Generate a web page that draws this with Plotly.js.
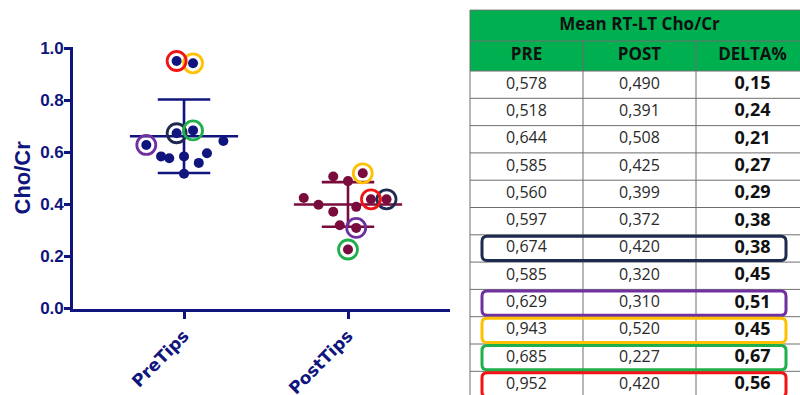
<!DOCTYPE html>
<html>
<head>
<meta charset="utf-8">
<script src="https://cdn.plot.ly/plotly-3.0.1.min.js"></script>
<style>
html,body{margin:0;padding:0;overflow:hidden;background:#fff;width:800px;height:395px;}
#chart{width:810px;height:410px;}
</style>
</head>
<body>
<div id="chart"></div>
<script>
// ---- data ----
const categories = ['PreTips', 'PostTips'];
const pre  = [0.578, 0.518, 0.644, 0.585, 0.560, 0.597, 0.674, 0.585, 0.629, 0.943, 0.685, 0.952];
const post = [0.490, 0.391, 0.508, 0.425, 0.399, 0.372, 0.420, 0.320, 0.310, 0.520, 0.227, 0.420];
const delta = ['0,15', '0,24', '0,21', '0,27', '0,29', '0,38', '0,38', '0,45', '0,51', '0,45', '0,67', '0,56'];
// horizontal scatter offsets of each dot around its category (as plotted)
const preJitter  = [-0.09, 0, 0.24, -0.14, 0.09, 0.14, -0.045, 0, -0.23, 0.055, 0.055, -0.045];
const postJitter = [0, 0.05, -0.09, -0.27, -0.18, -0.09, 0.235, -0.05, 0.05, 0.09, 0, 0.14];
const highlightRows = [6, 8, 9, 10, 11];
const highlightColors = ['#1f2a50', '#7030a0', '#ffc000', '#1fb04b', '#f01414'];
const tableHeaders = ['PRE', 'POST', 'DELTA%'];
const tableTitle = 'Mean RT-LT Cho/Cr';

// ---- helpers ----
const W = 810, H = 410;
const NAVY = '#10157e', MAROON = '#790b3d', GREEN = '#00b050', GRID = '#6e6e6e';
const px = x => x / W, py = y => (H - y) / H;
function mean(a){ return a.reduce((s, v) => s + v, 0) / a.length; }
function sd(a){ const m = mean(a); return Math.sqrt(a.reduce((s, v) => s + (v - m) * (v - m), 0) / (a.length - 1)); }
function fmt(v){ return v.toFixed(3).replace('.', ','); }

function meanSdTrace(vals, ci, color){
  const m = mean(vals), s = sd(vals);
  const xs = [ci - 0.33, ci + 0.33, null, ci, ci, null, ci - 0.16, ci + 0.16, null, ci - 0.16, ci + 0.16];
  const ys = [m, m, null, m - s, m + s, null, m + s, m + s, null, m - s, m - s];
  return {x: xs, y: ys, type: 'scatter', mode: 'lines', line: {color: color, width: 2.6},
          hoverinfo: 'skip', showlegend: false, xaxis: 'x', yaxis: 'y', connectgaps: false};
}
function dotTrace(vals, jit, ci, color){
  return {x: vals.map((v, i) => ci + jit[i]), y: vals, type: 'scatter', mode: 'markers',
          marker: {color: color, size: 10}, showlegend: false, xaxis: 'x', yaxis: 'y'};
}
function ringTrace(vals, jit, ci){
  return {x: highlightRows.map(i => ci + jit[i]), y: highlightRows.map(i => vals[i]),
          type: 'scatter', mode: 'markers', showlegend: false, xaxis: 'x', yaxis: 'y',
          marker: {size: 19, color: 'rgba(0,0,0,0)', line: {color: highlightColors, width: 2.8}}};
}

// ---- table on its own axes: x2 = column units, y2 = row units (data rows are 1 unit) ----
const nCols = tableHeaders.length, nRows = pre.length;
const rowPx = 27.3;                       // pixel height of one row unit
const titleEdge = -(61 / rowPx), headEdge = -(30 / rowPx);
const rowEdges = [titleEdge, headEdge, 0];
for (let i = 1; i <= nRows; i++) rowEdges.push(i);
const colEdges = [];
for (let j = 0; j <= nCols; j++) colEdges.push(j);
const y2Bottom = (H - 71) / rowPx, y2Top = titleEdge - 0.03;
const x2Left = -0.01;

// fills (1 = green header band, 0 = white)
const fillZ = rowEdges.slice(0, -1).map((e, r) => colEdges.slice(0, -1).map(() => (r < 2 ? 1 : 0)));
const fillTrace = {type: 'heatmap', x: colEdges, y: rowEdges, z: fillZ, xaxis: 'x2', yaxis: 'y2',
  zmin: 0, zmax: 1, colorscale: [[0, '#ffffff'], [1, GREEN]], showscale: false, hoverinfo: 'skip', xgap: 0, ygap: 0};

// grid lines
const gx = [], gy = [];
rowEdges.forEach(e => { gx.push(0, nCols, null); gy.push(e, e, null); });
colEdges.forEach(c => { gx.push(c, c, null); gy.push(c === 0 || c === nCols ? titleEdge : headEdge, y2Bottom, null); });
const gridTrace = {type: 'scatter', mode: 'lines', x: gx, y: gy, xaxis: 'x2', yaxis: 'y2',
  line: {color: GRID, width: 1}, hoverinfo: 'skip', showlegend: false};

const tFont = 'Open Sans, sans-serif';
const titleTrace = {type: 'scatter', mode: 'text', x: [nCols / 2], y: [(titleEdge + headEdge) / 2],
  text: ['<b>' + tableTitle + '</b>'], textposition: 'middle center', xaxis: 'x2', yaxis: 'y2',
  textfont: {family: tFont, size: 17, color: '#111'}, hoverinfo: 'skip', showlegend: false, cliponaxis: false};
const headTrace = {type: 'scatter', mode: 'text', x: tableHeaders.map((h, j) => j + 0.5),
  y: tableHeaders.map(() => headEdge / 2), text: tableHeaders.map(h => '<b>' + h + '</b>'),
  textposition: 'middle center', xaxis: 'x2', yaxis: 'y2',
  textfont: {family: tFont, size: 17, color: '#111'}, hoverinfo: 'skip', showlegend: false, cliponaxis: false};
function colTrace(texts, j, size, color){
  return {type: 'scatter', mode: 'text', x: texts.map(() => j + 0.5), y: texts.map((t, i) => i + 0.5),
    text: texts, textposition: 'middle center', xaxis: 'x2', yaxis: 'y2',
    textfont: {family: tFont, size: size, color: color}, hoverinfo: 'skip', showlegend: false, cliponaxis: false};
}

const traces = [
  meanSdTrace(pre, 0, NAVY),
  meanSdTrace(post, 1, MAROON),
  dotTrace(pre, preJitter, 0, NAVY),
  dotTrace(post, postJitter, 1, MAROON),
  ringTrace(pre, preJitter, 0),
  ringTrace(post, postJitter, 1),
  fillTrace, gridTrace, titleTrace, headTrace,
  colTrace(pre.map(fmt), 0, 16, '#2a2a2a'),
  colTrace(post.map(fmt), 1, 16, '#2a2a2a'),
  colTrace(delta.map(d => '<b>' + d + '</b>'), 2, 18, '#111')
];

// rounded highlight frames around the marked rows
const colPx = 113;
function roundRect(x0, y0, x1, y1, rx, ry){
  return 'M ' + (x0 + rx) + ',' + y0 + ' L ' + (x1 - rx) + ',' + y0 +
    ' Q ' + x1 + ',' + y0 + ' ' + x1 + ',' + (y0 + ry) +
    ' L ' + x1 + ',' + (y1 - ry) +
    ' Q ' + x1 + ',' + y1 + ' ' + (x1 - rx) + ',' + y1 +
    ' L ' + (x0 + rx) + ',' + y1 +
    ' Q ' + x0 + ',' + y1 + ' ' + x0 + ',' + (y1 - ry) +
    ' L ' + x0 + ',' + (y0 + ry) +
    ' Q ' + x0 + ',' + y0 + ' ' + (x0 + rx) + ',' + y0 + ' Z';
}
const shapes = highlightRows.map((row, k) => ({
  type: 'path', xref: 'x2', yref: 'y2', layer: 'above',
  path: roundRect(12 / colPx, row + 1.5 / rowPx, 316 / colPx, row + 1 - 1.5 / rowPx, 5 / colPx, 5 / rowPx),
  line: {color: highlightColors[k], width: 3}, fillcolor: 'rgba(0,0,0,0)'
}));

const tickFontY = {family: 'Liberation Sans, Arial, sans-serif', size: 17, color: NAVY, weight: 'bold'};
const tickFontX = {family: 'DejaVu Sans, Verdana, sans-serif', size: 17, color: NAVY, weight: 'bold'};
const tableLeftPx = 470 + x2Left * colPx;
const layout = {
  width: W, height: H,
  margin: {l: 0, r: 0, t: 0, b: 0},
  paper_bgcolor: '#ffffff', plot_bgcolor: 'rgba(0,0,0,0)',
  showlegend: false,
  xaxis: {
    domain: [px(73), px(450)], range: [-0.677, 1.622],
    tickmode: 'array', tickvals: [0, 1], ticktext: categories,
    tickangle: -45, tickfont: tickFontX,
    showline: true, linecolor: NAVY, linewidth: 2.6,
    ticks: 'outside', ticklen: 8, tickwidth: 2.6, tickcolor: NAVY,
    showgrid: false, zeroline: false, fixedrange: true
  },
  yaxis: {
    domain: [py(308.5), py(47.2)], range: [0, 1.005],
    tickvals: [0, 0.2, 0.4, 0.6, 0.8, 1.0], ticktext: ['0.0', '0.2', '0.4', '0.6', '0.8', '1.0'],
    tickmode: 'array', tickfont: tickFontY, ticklabelstandoff: -3,
    showline: true, linecolor: NAVY, linewidth: 2.6,
    ticks: 'outside', ticklen: 6, tickwidth: 2.6, tickcolor: NAVY,
    showgrid: false, zeroline: false, fixedrange: true,
    title: {text: 'Cho/Cr', font: {family: 'Liberation Sans, Arial, sans-serif', size: 22, color: NAVY, weight: 'bold'}, standoff: 4}
  },
  xaxis2: {
    domain: [px(tableLeftPx), px(470 + nCols * colPx)], range: [x2Left, nCols], anchor: 'y2',
    visible: false, fixedrange: true
  },
  yaxis2: {
    domain: [0, py(71 + y2Top * rowPx)], range: [y2Bottom, y2Top], anchor: 'x2',
    visible: false, fixedrange: true
  },
  shapes: shapes
};

Plotly.newPlot('chart', traces, layout, {displayModeBar: false});
</script>
</body>
</html>
